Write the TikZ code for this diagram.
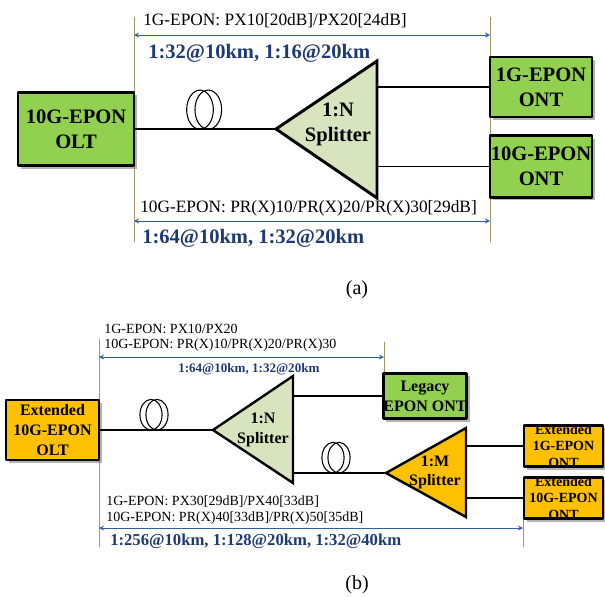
\documentclass[tikz,border=0pt]{standalone}
\usepackage{fontspec}
\setmainfont{Liberation Serif}
\usetikzlibrary{shadows}

\definecolor{ontgreen}{HTML}{92D050}
\definecolor{extorange}{HTML}{FFC000}
\definecolor{splitgreen}{HTML}{D7E4BD}
\definecolor{ratenavy}{HTML}{1F3A73}
\definecolor{spanblue}{HTML}{2F5F9E}
\definecolor{guidetan}{HTML}{A39565}

\tikzset{
  unit/.style={draw, line width=2.2pt, inner sep=0pt, align=center,
    drop shadow={shadow xshift=2.2pt, shadow yshift=-2.2pt, fill=black!50, opacity=.6}},
  bigunit/.style={unit, font=\bfseries\fontsize{15.4}{18.75}\selectfont},
  smallunit/.style={unit, line width=1.8pt, font=\bfseries\fontsize{12}{15}\selectfont},
  extname/.style={align=center, inner sep=0pt, font=\bfseries\fontsize{10.5}{12.4}\selectfont},
  splitter/.style={draw, line width=2.2pt, line join=miter},
  guide/.style={guidetan, line width=0.6pt},
  span/.style={spanblue, line width=0.7pt, <->},
  fibre/.style={line width=0.9pt},
  coil/.style={line width=0.8pt},
  lbl/.style={anchor=west, inner sep=0pt},
  rate/.style={lbl, text=ratenavy, font=\bfseries\fontsize{15.4}{18}\selectfont},
}

\begin{document}
\begin{tikzpicture}[x=0.75pt, y=-0.75pt, line join=round, line cap=round, >=stealth]
\useasboundingbox (0,0) rectangle (605,596);

% ---------- (a) ----------
\draw[guide] (134,17) -- (134,242) (490,17) -- (490,242);
\coordinate (spanA1l) at (134,35);  \coordinate (spanA1r) at (490,35);
\coordinate (spanA2l) at (134,221); \coordinate (spanA2r) at (490,221);
\draw[span] (spanA1l) -- (spanA1r);
\draw[span] (spanA2l) -- (spanA2r);
\node[lbl, font=\fontsize{13}{15}\selectfont] (budgetA1) at (143,21) {1G-EPON: PX10[20dB]/PX20[24dB]};
\node[rate] (rateA1) at (148,53) {1:32@10km, 1:16@20km};
\node[lbl, font=\fontsize{13}{15}\selectfont] (budgetA2) at (140,208) {10G-EPON: PR(X)10/PR(X)20/PR(X)30[29dB]};
\node[rate] (rateA2) at (142,238) {1:64@10km, 1:32@20km};

\node[bigunit, fill=ontgreen, minimum width=87pt, minimum height=55pt] (oltA) at (76,129) {10G-EPON\\OLT};
\node[bigunit, fill=ontgreen, minimum width=76.5pt, minimum height=45pt] (ontA1) at (541,87) {1G-EPON\\ONT};
\node[bigunit, fill=ontgreen, minimum width=76.5pt, minimum height=46pt] (ontA2) at (541,166.5) {10G-EPON\\ONT};

\coordinate (tipA) at (276,129);
\coordinate (outA1) at (377,87);
\coordinate (outA2) at (377,166.5);
\draw[fibre] (oltA.east) -- (tipA);
\draw[fibre] (outA1) -- (ontA1.west);
\draw[fibre] (outA2) -- (ontA2.west);
\draw[splitter, fill=splitgreen] (tipA) -- (377,61) -- (377,198) -- cycle;
\node[font=\bfseries\fontsize{15.4}{18.75}\selectfont, align=center] (splitA) at (338,124.5) {1:N\\Splitter};
\foreach \cx in {200,208.3}
  \draw[coil] (\cx,109.7) ellipse [x radius=10pt, y radius=14.7pt];

\node[font=\fontsize{15}{18}\selectfont] (capA) at (357,290) {(a)};

% ---------- (b) ----------
\draw[guide] (99,339) -- (99,547) (384,342) -- (384,372) (523,519) -- (523,547);
\coordinate (spanB1l) at (99,357);  \coordinate (spanB1r) at (384,357);
\coordinate (spanB2l) at (99,528);  \coordinate (spanB2r) at (523,528);
\draw[span] (spanB1l) -- (spanB1r);
\draw[span] (spanB2l) -- (spanB2r);
\node[lbl, font=\fontsize{10.5}{12}\selectfont] (budgetB1) at (104,329) {1G-EPON: PX10/PX20};
\node[lbl, font=\fontsize{10.5}{12}\selectfont] (budgetB2) at (104,345) {10G-EPON: PR(X)10/PR(X)20/PR(X)30};
\node[rate, font=\bfseries\fontsize{9.8}{12}\selectfont] (rateB1) at (178,369) {1:64@10km, 1:32@20km};
\node[lbl, font=\fontsize{10.5}{12}\selectfont] (budgetB3) at (106,502) {1G-EPON: PX30[29dB]/PX40[33dB]};
\node[lbl, font=\fontsize{10.5}{12}\selectfont] (budgetB4) at (106,518) {10G-EPON: PR(X)40[33dB]/PR(X)50[35dB]};
\node[rate, font=\bfseries\fontsize{12.5}{15}\selectfont] (rateB2) at (110,541) {1:256@10km, 1:128@20km, 1:32@40km};

\node[smallunit, fill=extorange, minimum width=70pt, minimum height=45pt] (oltB) at (52.5,430) {Extended\\10G-EPON\\OLT};
\node[smallunit, fill=ontgreen, minimum width=60pt, minimum height=34pt] (legacy) at (425,396) {Legacy\\EPON ONT};
\node[smallunit, fill=extorange, minimum width=59pt, minimum height=31pt,
  label={[extname]center:Extended\\1G-EPON\\ONT}] (extB1) at (563.5,446) {};
\node[smallunit, fill=extorange, minimum width=59pt, minimum height=31pt,
  label={[extname]center:Extended\\10G-EPON\\ONT}] (extB2) at (563.5,498) {};

\coordinate (tipN) at (213,430);
\coordinate (outN1) at (293,396);
\coordinate (outN2) at (293,473);
\coordinate (tipM) at (386,473);
\coordinate (outM1) at (466,446);
\coordinate (outM2) at (466,498);
\draw[fibre] (oltB.east) -- (tipN);
\draw[fibre] (outN1) -- (legacy.west);
\draw[fibre] (outN2) -- (tipM);
\draw[fibre] (outM1) -- (extB1.west);
\draw[fibre] (outM2) -- (extB2.west);
\draw[splitter, line width=1.8pt, fill=splitgreen] (tipN) -- (293,376) -- (293,483) -- cycle;
\draw[splitter, line width=1.8pt, fill=extorange] (tipM) -- (466,428) -- (466,517) -- cycle;
\node[font=\bfseries\fontsize{12}{15}\selectfont, align=center] (splitN) at (263,430) {1:N\\Splitter};
\node[font=\bfseries\fontsize{12}{14.5}\selectfont, align=center] (splitM) at (435,472.5) {1:M\\Splitter};
\foreach \cx in {151,157}
  \draw[coil] (\cx,414.7) ellipse [x radius=8.3pt, y radius=11.5pt];
\foreach \cx in {333,339}
  \draw[coil] (\cx,457.7) ellipse [x radius=8.3pt, y radius=11.5pt];

\node[font=\fontsize{15}{18}\selectfont] (capB) at (357,585) {(b)};
\end{tikzpicture}
\end{document}
